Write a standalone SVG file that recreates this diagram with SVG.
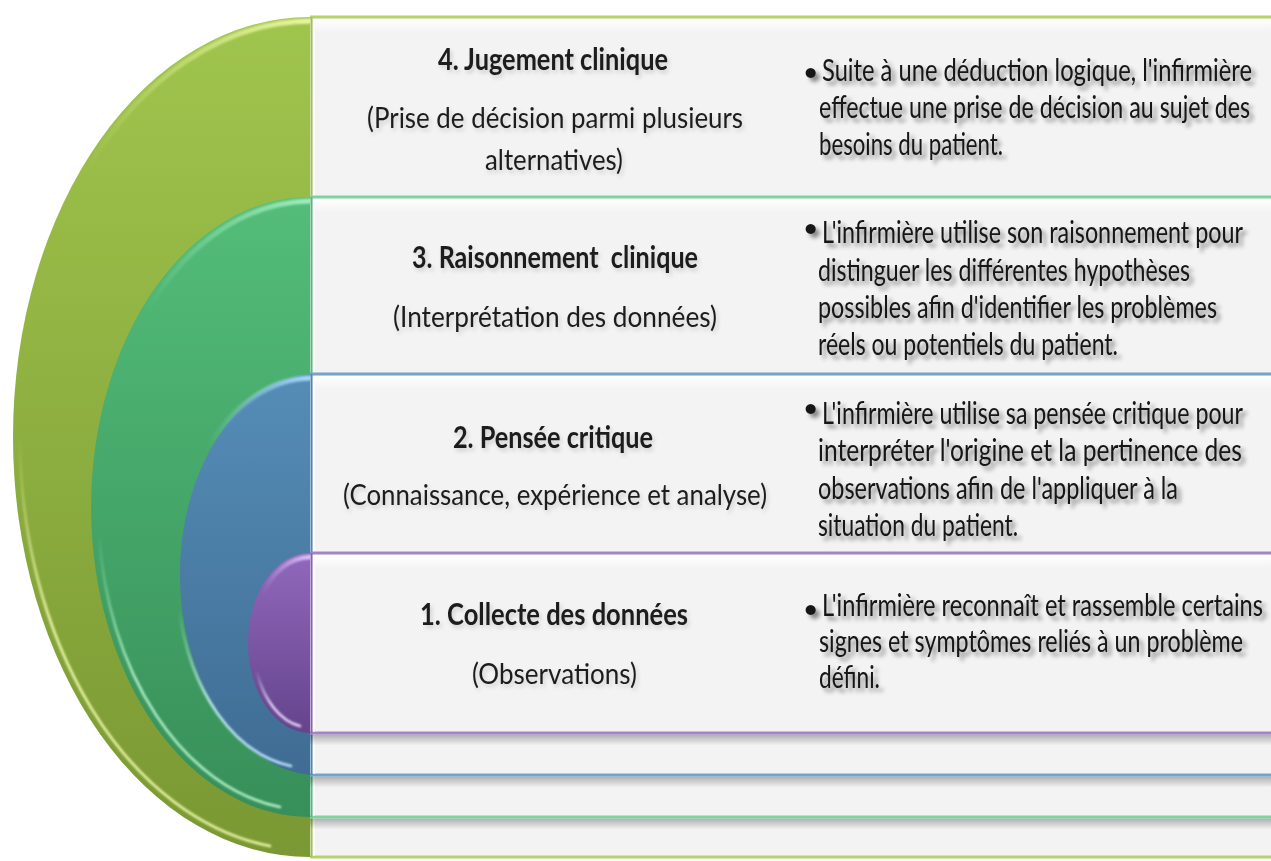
<svg xmlns="http://www.w3.org/2000/svg" width="1271" height="861" viewBox="0 0 1271 861">
  <style>
    .title { font-family: Lato, "Open Sans", sans-serif; font-weight: 700; font-size: 30px; fill: #1c1c1c; text-anchor: middle; }
    .sub   { font-family: Lato, "Open Sans", sans-serif; font-weight: 400; font-size: 28px; fill: #1c1c1c; text-anchor: middle; }
    .body  { font-family: Lato, "Open Sans", sans-serif; font-weight: 400; font-size: 30px; fill: #141414; }
    .bullet { font-family: Lato, "Open Sans", sans-serif; font-weight: 700; font-size: 23px; fill: #141414; }
    .panel { fill: #f3f3f3; }
    .hl    { fill: none; stroke-linecap: round; filter: url(#soft); }
    .left-text  { filter: url(#faint-shadow); }
    .right-text { filter: url(#text-shadow); }
  </style>
  <defs>
    <linearGradient id="fill-green" x1="0" y1="0" x2="0" y2="1">
      <stop offset="0" stop-color="#a0c54d"/><stop offset="1" stop-color="#7a9833"/>
    </linearGradient>
    <linearGradient id="fill-teal" x1="0" y1="0" x2="0" y2="1">
      <stop offset="0" stop-color="#53bd79"/><stop offset="1" stop-color="#378f59"/>
    </linearGradient>
    <linearGradient id="fill-blue" x1="0" y1="0" x2="0" y2="1">
      <stop offset="0" stop-color="#558db7"/><stop offset="1" stop-color="#3f6c93"/>
    </linearGradient>
    <linearGradient id="fill-purple" x1="0" y1="0" x2="0" y2="1">
      <stop offset="0" stop-color="#9168bc"/><stop offset="1" stop-color="#65448c"/>
    </linearGradient>
    <linearGradient id="band" x1="0" y1="0" x2="0" y2="1">
      <stop offset="0" stop-color="#ffffff"/><stop offset="1" stop-color="#f3f3f3"/>
    </linearGradient>
    <linearGradient id="shade" x1="0" y1="0" x2="0" y2="1">
      <stop offset="0" stop-color="#000" stop-opacity="0.28"/><stop offset="1" stop-color="#000" stop-opacity="0"/>
    </linearGradient>
    <!-- rim highlights fade out along the arcs -->
    <linearGradient id="rim-green" gradientUnits="userSpaceOnUse" x1="310" y1="0" x2="86" y2="0">
      <stop offset="0" stop-color="#eefaa6" stop-opacity="0.95"/><stop offset="1" stop-color="#eefaa6" stop-opacity="0"/>
    </linearGradient>
    <linearGradient id="low-green" gradientUnits="userSpaceOnUse" x1="0" y1="437" x2="0" y2="620">
      <stop offset="0" stop-color="#f2fbae" stop-opacity="0"/><stop offset="1" stop-color="#f2fbae" stop-opacity="0.95"/>
    </linearGradient>
    <linearGradient id="rim-teal" gradientUnits="userSpaceOnUse" x1="310" y1="0" x2="146" y2="0">
      <stop offset="0" stop-color="#a4f0c0" stop-opacity="0.95"/><stop offset="1" stop-color="#a4f0c0" stop-opacity="0"/>
    </linearGradient>
    <linearGradient id="low-teal" gradientUnits="userSpaceOnUse" x1="0" y1="533" x2="0" y2="680">
      <stop offset="0" stop-color="#b8f7cf" stop-opacity="0"/><stop offset="1" stop-color="#b8f7cf" stop-opacity="0.95"/>
    </linearGradient>
    <linearGradient id="rim-blue" gradientUnits="userSpaceOnUse" x1="310" y1="0" x2="207" y2="0">
      <stop offset="0" stop-color="#a9dcff" stop-opacity="0.95"/><stop offset="1" stop-color="#a9dcff" stop-opacity="0"/>
    </linearGradient>
    <linearGradient id="low-blue" gradientUnits="userSpaceOnUse" x1="0" y1="608" x2="0" y2="700">
      <stop offset="0" stop-color="#c4e8ff" stop-opacity="0"/><stop offset="1" stop-color="#c4e8ff" stop-opacity="0.95"/>
    </linearGradient>
    <linearGradient id="rim-purple" gradientUnits="userSpaceOnUse" x1="310" y1="0" x2="262" y2="0">
      <stop offset="0" stop-color="#e2c8ff" stop-opacity="0.95"/><stop offset="1" stop-color="#e2c8ff" stop-opacity="0"/>
    </linearGradient>
    <linearGradient id="low-purple" gradientUnits="userSpaceOnUse" x1="0" y1="670" x2="0" y2="705">
      <stop offset="0" stop-color="#ecdcff" stop-opacity="0"/><stop offset="1" stop-color="#ecdcff" stop-opacity="0.95"/>
    </linearGradient>
    <filter id="soft" x="-10%" y="-10%" width="120%" height="120%">
      <feGaussianBlur stdDeviation="1"/>
    </filter>
    <filter id="text-shadow" x="-5%" y="-20%" width="110%" height="150%">
      <feDropShadow dx="4" dy="4" stdDeviation="2" flood-color="#000" flood-opacity="0.45"/>
    </filter>
    <filter id="faint-shadow" x="-5%" y="-20%" width="110%" height="150%">
      <feDropShadow dx="2" dy="3" stdDeviation="2" flood-color="#000" flood-opacity="0.15"/>
    </filter>
  </defs>

  <rect width="1271" height="861" fill="#ffffff"/>

  <!-- Level 4: clinical judgement (outermost) -->
  <g id="level-4">
    <path d="M310,17 A297,420 0 0 0 310,857 Z" fill="url(#fill-green)"/>
    <path class="hl" d="M310,21 A294,416 0 0 0 86,171" stroke="url(#rim-green)" stroke-width="5"/>
    <path class="hl" d="M20,437 A290,413 0 0 0 270,846" stroke="url(#low-green)" stroke-width="2.5"/>
    <rect class="panel" x="310" y="17" width="970" height="840"/>
    <rect x="313" y="18.5" width="967" height="14" fill="url(#band)"/>
    <line x1="310" y1="17" x2="1280" y2="17" stroke="#b3d468" stroke-width="3"/>
    <line x1="310" y1="857" x2="1280" y2="857" stroke="#b3d468" stroke-width="3"/>
    <line x1="311.5" y1="17" x2="311.5" y2="857" stroke="#9ec24f" stroke-width="2"/>
    <line x1="314" y1="19" x2="314" y2="856" stroke="#ffffff" stroke-width="1.5"/>
    <g class="left-text">
      <text class="title" transform="scale(0.75,1)" x="737.3" y="70" textLength="306.7" lengthAdjust="spacingAndGlyphs">4. Jugement clinique</text>
      <text class="sub" transform="scale(0.8,1)" x="693.8" y="128" textLength="470" lengthAdjust="spacingAndGlyphs">(Prise de décision parmi plusieurs</text>
      <text class="sub" transform="scale(0.8,1)" x="692.5" y="170" textLength="172.5" lengthAdjust="spacingAndGlyphs">alternatives)</text>
    </g>
    <g class="right-text">
      <text class="bullet" x="804" y="80">•</text>
      <g transform="scale(0.75,1)">
        <text class="body" x="1096" y="81" textLength="573.3" lengthAdjust="spacingAndGlyphs">Suite à une déduction logique, l'infirmière</text>
        <text class="body" x="1092" y="118" textLength="574.7" lengthAdjust="spacingAndGlyphs">effectue une prise de décision au sujet des</text>
        <text class="body" x="1092" y="155" textLength="245.3" lengthAdjust="spacingAndGlyphs">besoins du patient.</text>
      </g>
    </g>
  </g>

  <!-- Level 3: clinical reasoning -->
  <g id="level-3">
    <path d="M310,197 A219,310 0 0 0 310,817 Z" fill="url(#fill-teal)"/>
    <path class="hl" d="M310,201 A216,306 0 0 0 146,312" stroke="url(#rim-teal)" stroke-width="5"/>
    <path class="hl" d="M99,533 A212,303 0 0 0 280,807" stroke="url(#low-teal)" stroke-width="2.5"/>
    <rect class="panel" x="310" y="197" width="970" height="620"/>
    <rect x="313" y="198.5" width="967" height="14" fill="url(#band)"/>
    <rect x="310" y="818.5" width="970" height="11" fill="url(#shade)"/>
    <line x1="310" y1="197" x2="1280" y2="197" stroke="#82d2a0" stroke-width="3"/>
    <line x1="310" y1="817" x2="1280" y2="817" stroke="#82d2a0" stroke-width="3"/>
    <line x1="311.5" y1="197" x2="311.5" y2="817" stroke="#55b97a" stroke-width="2"/>
    <line x1="314" y1="199" x2="314" y2="816" stroke="#ffffff" stroke-width="1.5"/>
    <g class="left-text">
      <text class="title" transform="scale(0.75,1)" x="740" y="268" textLength="381.3" lengthAdjust="spacingAndGlyphs" xml:space="preserve">3. Raisonnement  clinique</text>
      <text class="sub" transform="scale(0.8,1)" x="693.8" y="327" textLength="405" lengthAdjust="spacingAndGlyphs">(Interprétation des données)</text>
    </g>
    <g class="right-text">
      <text class="bullet" x="804" y="236">•</text>
      <g transform="scale(0.75,1)">
        <text class="body" x="1096" y="243" textLength="561.3" lengthAdjust="spacingAndGlyphs">L'infirmière utilise son raisonnement pour</text>
        <text class="body" x="1090.7" y="281" textLength="496" lengthAdjust="spacingAndGlyphs">distinguer les différentes hypothèses</text>
        <text class="body" x="1090.7" y="318" textLength="532" lengthAdjust="spacingAndGlyphs">possibles afin d'identifier les problèmes</text>
        <text class="body" x="1090.7" y="355" textLength="400" lengthAdjust="spacingAndGlyphs">réels ou potentiels du patient.</text>
      </g>
    </g>
  </g>

  <!-- Level 2: critical thinking -->
  <g id="level-2">
    <path d="M310,374 A140,201 0 0 0 310,775 Z" fill="url(#fill-blue)"/>
    <path class="hl" d="M310,378 A137,197 0 0 0 207,449" stroke="url(#rim-blue)" stroke-width="5"/>
    <path class="hl" d="M179,608 A133,194 0 0 0 291,766" stroke="url(#low-blue)" stroke-width="2.5"/>
    <rect class="panel" x="310" y="374" width="970" height="401"/>
    <rect x="313" y="375.5" width="967" height="14" fill="url(#band)"/>
    <rect x="310" y="776.5" width="970" height="11" fill="url(#shade)"/>
    <line x1="310" y1="374" x2="1280" y2="374" stroke="#76a3c9" stroke-width="3"/>
    <line x1="310" y1="775" x2="1280" y2="775" stroke="#76a3c9" stroke-width="3"/>
    <line x1="311.5" y1="374" x2="311.5" y2="775" stroke="#4f86b1" stroke-width="2"/>
    <line x1="314" y1="376" x2="314" y2="774" stroke="#ffffff" stroke-width="1.5"/>
    <g class="left-text">
      <text class="title" transform="scale(0.75,1)" x="737.3" y="448" textLength="266.7" lengthAdjust="spacingAndGlyphs">2. Pensée critique</text>
      <text class="sub" transform="scale(0.8,1)" x="693.8" y="505" textLength="530" lengthAdjust="spacingAndGlyphs">(Connaissance, expérience et analyse)</text>
    </g>
    <g class="right-text">
      <text class="bullet" x="804" y="416">•</text>
      <g transform="scale(0.75,1)">
        <text class="body" x="1096" y="424" textLength="561.3" lengthAdjust="spacingAndGlyphs">L'infirmière utilise sa pensée critique pour</text>
        <text class="body" x="1090.7" y="461" textLength="565.3" lengthAdjust="spacingAndGlyphs">interpréter l'origine et la pertinence des</text>
        <text class="body" x="1090.7" y="499" textLength="480" lengthAdjust="spacingAndGlyphs">observations afin de l'appliquer à la</text>
        <text class="body" x="1090.7" y="536" textLength="266.7" lengthAdjust="spacingAndGlyphs">situation du patient.</text>
      </g>
    </g>
  </g>

  <!-- Level 1: data collection (innermost) -->
  <g id="level-1">
    <path d="M310,553 A62,90 0 0 0 310,733 Z" fill="url(#fill-purple)"/>
    <path class="hl" d="M310,557 A59,86 0 0 0 262,594" stroke="url(#rim-purple)" stroke-width="4.5"/>
    <path class="hl" d="M257,672 A56,84 0 0 0 300,726" stroke="url(#low-purple)" stroke-width="2.5"/>
    <rect class="panel" x="310" y="553" width="970" height="180"/>
    <rect x="313" y="554.5" width="967" height="14" fill="url(#band)"/>
    <rect x="310" y="734.5" width="970" height="11" fill="url(#shade)"/>
    <line x1="310" y1="553" x2="1280" y2="553" stroke="#a384c6" stroke-width="3"/>
    <line x1="310" y1="733" x2="1280" y2="733" stroke="#a384c6" stroke-width="3"/>
    <line x1="311.5" y1="553" x2="311.5" y2="733" stroke="#8a60b4" stroke-width="2"/>
    <line x1="314" y1="555" x2="314" y2="732" stroke="#ffffff" stroke-width="1.5"/>
    <g class="left-text">
      <text class="title" transform="scale(0.75,1)" x="738.7" y="625" textLength="357.3" lengthAdjust="spacingAndGlyphs">1. Collecte des données</text>
      <text class="sub" transform="scale(0.8,1)" x="693.1" y="684" textLength="206.3" lengthAdjust="spacingAndGlyphs">(Observations)</text>
    </g>
    <g class="right-text">
      <text class="bullet" x="804" y="617">•</text>
      <g transform="scale(0.75,1)">
        <text class="body" x="1096" y="616" textLength="588" lengthAdjust="spacingAndGlyphs">L'infirmière reconnaît et rassemble certains</text>
        <text class="body" x="1092" y="652" textLength="565.3" lengthAdjust="spacingAndGlyphs">signes et symptômes reliés à un problème</text>
        <text class="body" x="1092" y="688" textLength="81.3" lengthAdjust="spacingAndGlyphs">défini.</text>
      </g>
    </g>
  </g>
</svg>
